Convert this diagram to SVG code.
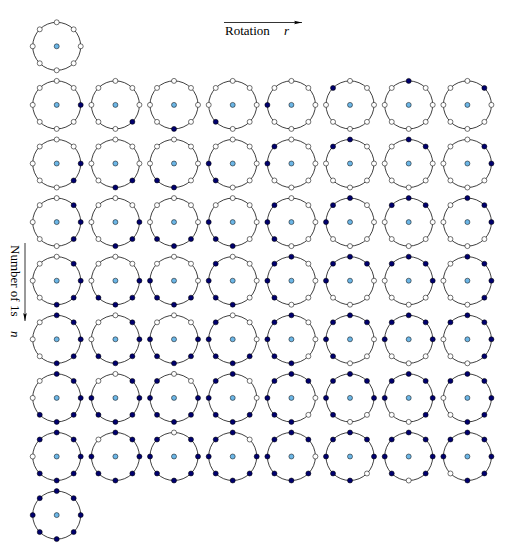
<svg xmlns="http://www.w3.org/2000/svg" xmlns:xlink="http://www.w3.org/1999/xlink" width="519" height="560" viewBox="0 0 519 560">
<style>
.ring{fill:none;stroke:#000;stroke-width:0.75}
.c{fill:#6cb6e6;stroke:#000;stroke-width:0.5}
use{stroke:#000;stroke-width:0.55}
.d{fill:#00006e}
.w{fill:#fff}
.lbl{font-family:"Liberation Serif","Times New Roman",serif;font-size:13px;fill:#000}
.it{font-style:italic}
.ax{stroke:#000;stroke-width:0.8;fill:none}
</style>
<defs>
<circle id="p0" cx="24" cy="0" r="2.5"/>
<circle id="p1" cx="16.97" cy="16.97" r="2.5"/>
<circle id="p2" cx="0" cy="24" r="2.5"/>
<circle id="p3" cx="-16.97" cy="16.97" r="2.5"/>
<circle id="p4" cx="-24" cy="0" r="2.5"/>
<circle id="p5" cx="-16.97" cy="-16.97" r="2.5"/>
<circle id="p6" cx="0" cy="-24" r="2.5"/>
<circle id="p7" cx="16.97" cy="-16.97" r="2.5"/>
<marker id="ah" markerWidth="10" markerHeight="6" refX="8" refY="3" orient="auto" markerUnits="userSpaceOnUse">
<path d="M0,1.2 L8,3 L0,4.8 L1.5,3 z" fill="#000"/>
</marker>
</defs>
<g id="axes">
<line class="ax" x1="224" y1="22.5" x2="302" y2="22.5" marker-end="url(#ah)"/>
<line class="ax" x1="25" y1="243" x2="25" y2="321" marker-end="url(#ah)"/>
<text class="lbl" x="225" y="35">Rotation</text>
<text class="lbl it" x="284" y="35">r</text>
<g transform="translate(11,245) rotate(90)"><text class="lbl" x="0" y="0">Number of 1s</text><text class="lbl it" x="86" y="0">n</text></g>
</g>
<g id="n0c0" transform="translate(56.7,46.3)"><circle class="ring" r="24"/><circle class="c" r="2.5"/><use href="#p0" class="w"/><use href="#p1" class="w"/><use href="#p2" class="w"/><use href="#p3" class="w"/><use href="#p4" class="w"/><use href="#p5" class="w"/><use href="#p6" class="w"/><use href="#p7" class="w"/></g>
<g id="n1c0" transform="translate(56.7,104.9)"><circle class="ring" r="24"/><circle class="c" r="2.5"/><use href="#p0" class="d"/><use href="#p1" class="w"/><use href="#p2" class="w"/><use href="#p3" class="w"/><use href="#p4" class="w"/><use href="#p5" class="w"/><use href="#p6" class="w"/><use href="#p7" class="w"/></g>
<g id="n1c1" transform="translate(115.4,104.9)"><circle class="ring" r="24"/><circle class="c" r="2.5"/><use href="#p0" class="w"/><use href="#p1" class="d"/><use href="#p2" class="w"/><use href="#p3" class="w"/><use href="#p4" class="w"/><use href="#p5" class="w"/><use href="#p6" class="w"/><use href="#p7" class="w"/></g>
<g id="n1c2" transform="translate(174,104.9)"><circle class="ring" r="24"/><circle class="c" r="2.5"/><use href="#p0" class="w"/><use href="#p1" class="w"/><use href="#p2" class="d"/><use href="#p3" class="w"/><use href="#p4" class="w"/><use href="#p5" class="w"/><use href="#p6" class="w"/><use href="#p7" class="w"/></g>
<g id="n1c3" transform="translate(232.7,104.9)"><circle class="ring" r="24"/><circle class="c" r="2.5"/><use href="#p0" class="w"/><use href="#p1" class="w"/><use href="#p2" class="w"/><use href="#p3" class="d"/><use href="#p4" class="w"/><use href="#p5" class="w"/><use href="#p6" class="w"/><use href="#p7" class="w"/></g>
<g id="n1c4" transform="translate(291.4,104.9)"><circle class="ring" r="24"/><circle class="c" r="2.5"/><use href="#p0" class="w"/><use href="#p1" class="w"/><use href="#p2" class="w"/><use href="#p3" class="w"/><use href="#p4" class="d"/><use href="#p5" class="w"/><use href="#p6" class="w"/><use href="#p7" class="w"/></g>
<g id="n1c5" transform="translate(350,104.9)"><circle class="ring" r="24"/><circle class="c" r="2.5"/><use href="#p0" class="w"/><use href="#p1" class="w"/><use href="#p2" class="w"/><use href="#p3" class="w"/><use href="#p4" class="w"/><use href="#p5" class="d"/><use href="#p6" class="w"/><use href="#p7" class="w"/></g>
<g id="n1c6" transform="translate(408.7,104.9)"><circle class="ring" r="24"/><circle class="c" r="2.5"/><use href="#p0" class="w"/><use href="#p1" class="w"/><use href="#p2" class="w"/><use href="#p3" class="w"/><use href="#p4" class="w"/><use href="#p5" class="w"/><use href="#p6" class="d"/><use href="#p7" class="w"/></g>
<g id="n1c7" transform="translate(467.4,104.9)"><circle class="ring" r="24"/><circle class="c" r="2.5"/><use href="#p0" class="w"/><use href="#p1" class="w"/><use href="#p2" class="w"/><use href="#p3" class="w"/><use href="#p4" class="w"/><use href="#p5" class="w"/><use href="#p6" class="w"/><use href="#p7" class="d"/></g>
<g id="n2c0" transform="translate(56.7,163.5)"><circle class="ring" r="24"/><circle class="c" r="2.5"/><use href="#p0" class="d"/><use href="#p1" class="d"/><use href="#p2" class="w"/><use href="#p3" class="w"/><use href="#p4" class="w"/><use href="#p5" class="w"/><use href="#p6" class="w"/><use href="#p7" class="w"/></g>
<g id="n2c1" transform="translate(115.4,163.5)"><circle class="ring" r="24"/><circle class="c" r="2.5"/><use href="#p0" class="w"/><use href="#p1" class="d"/><use href="#p2" class="d"/><use href="#p3" class="w"/><use href="#p4" class="w"/><use href="#p5" class="w"/><use href="#p6" class="w"/><use href="#p7" class="w"/></g>
<g id="n2c2" transform="translate(174,163.5)"><circle class="ring" r="24"/><circle class="c" r="2.5"/><use href="#p0" class="w"/><use href="#p1" class="w"/><use href="#p2" class="d"/><use href="#p3" class="d"/><use href="#p4" class="w"/><use href="#p5" class="w"/><use href="#p6" class="w"/><use href="#p7" class="w"/></g>
<g id="n2c3" transform="translate(232.7,163.5)"><circle class="ring" r="24"/><circle class="c" r="2.5"/><use href="#p0" class="w"/><use href="#p1" class="w"/><use href="#p2" class="w"/><use href="#p3" class="d"/><use href="#p4" class="d"/><use href="#p5" class="w"/><use href="#p6" class="w"/><use href="#p7" class="w"/></g>
<g id="n2c4" transform="translate(291.4,163.5)"><circle class="ring" r="24"/><circle class="c" r="2.5"/><use href="#p0" class="w"/><use href="#p1" class="w"/><use href="#p2" class="w"/><use href="#p3" class="w"/><use href="#p4" class="d"/><use href="#p5" class="d"/><use href="#p6" class="w"/><use href="#p7" class="w"/></g>
<g id="n2c5" transform="translate(350,163.5)"><circle class="ring" r="24"/><circle class="c" r="2.5"/><use href="#p0" class="w"/><use href="#p1" class="w"/><use href="#p2" class="w"/><use href="#p3" class="w"/><use href="#p4" class="w"/><use href="#p5" class="d"/><use href="#p6" class="d"/><use href="#p7" class="w"/></g>
<g id="n2c6" transform="translate(408.7,163.5)"><circle class="ring" r="24"/><circle class="c" r="2.5"/><use href="#p0" class="w"/><use href="#p1" class="w"/><use href="#p2" class="w"/><use href="#p3" class="w"/><use href="#p4" class="w"/><use href="#p5" class="w"/><use href="#p6" class="d"/><use href="#p7" class="d"/></g>
<g id="n2c7" transform="translate(467.4,163.5)"><circle class="ring" r="24"/><circle class="c" r="2.5"/><use href="#p0" class="d"/><use href="#p1" class="w"/><use href="#p2" class="w"/><use href="#p3" class="w"/><use href="#p4" class="w"/><use href="#p5" class="w"/><use href="#p6" class="w"/><use href="#p7" class="d"/></g>
<g id="n3c0" transform="translate(56.7,222.1)"><circle class="ring" r="24"/><circle class="c" r="2.5"/><use href="#p0" class="d"/><use href="#p1" class="d"/><use href="#p2" class="w"/><use href="#p3" class="w"/><use href="#p4" class="w"/><use href="#p5" class="w"/><use href="#p6" class="w"/><use href="#p7" class="d"/></g>
<g id="n3c1" transform="translate(115.4,222.1)"><circle class="ring" r="24"/><circle class="c" r="2.5"/><use href="#p0" class="d"/><use href="#p1" class="d"/><use href="#p2" class="d"/><use href="#p3" class="w"/><use href="#p4" class="w"/><use href="#p5" class="w"/><use href="#p6" class="w"/><use href="#p7" class="w"/></g>
<g id="n3c2" transform="translate(174,222.1)"><circle class="ring" r="24"/><circle class="c" r="2.5"/><use href="#p0" class="w"/><use href="#p1" class="d"/><use href="#p2" class="d"/><use href="#p3" class="d"/><use href="#p4" class="w"/><use href="#p5" class="w"/><use href="#p6" class="w"/><use href="#p7" class="w"/></g>
<g id="n3c3" transform="translate(232.7,222.1)"><circle class="ring" r="24"/><circle class="c" r="2.5"/><use href="#p0" class="w"/><use href="#p1" class="w"/><use href="#p2" class="d"/><use href="#p3" class="d"/><use href="#p4" class="d"/><use href="#p5" class="w"/><use href="#p6" class="w"/><use href="#p7" class="w"/></g>
<g id="n3c4" transform="translate(291.4,222.1)"><circle class="ring" r="24"/><circle class="c" r="2.5"/><use href="#p0" class="w"/><use href="#p1" class="w"/><use href="#p2" class="w"/><use href="#p3" class="d"/><use href="#p4" class="d"/><use href="#p5" class="d"/><use href="#p6" class="w"/><use href="#p7" class="w"/></g>
<g id="n3c5" transform="translate(350,222.1)"><circle class="ring" r="24"/><circle class="c" r="2.5"/><use href="#p0" class="w"/><use href="#p1" class="w"/><use href="#p2" class="w"/><use href="#p3" class="w"/><use href="#p4" class="d"/><use href="#p5" class="d"/><use href="#p6" class="d"/><use href="#p7" class="w"/></g>
<g id="n3c6" transform="translate(408.7,222.1)"><circle class="ring" r="24"/><circle class="c" r="2.5"/><use href="#p0" class="w"/><use href="#p1" class="w"/><use href="#p2" class="w"/><use href="#p3" class="w"/><use href="#p4" class="w"/><use href="#p5" class="d"/><use href="#p6" class="d"/><use href="#p7" class="d"/></g>
<g id="n3c7" transform="translate(467.4,222.1)"><circle class="ring" r="24"/><circle class="c" r="2.5"/><use href="#p0" class="d"/><use href="#p1" class="w"/><use href="#p2" class="w"/><use href="#p3" class="w"/><use href="#p4" class="w"/><use href="#p5" class="w"/><use href="#p6" class="d"/><use href="#p7" class="d"/></g>
<g id="n4c0" transform="translate(56.7,280.7)"><circle class="ring" r="24"/><circle class="c" r="2.5"/><use href="#p0" class="d"/><use href="#p1" class="d"/><use href="#p2" class="d"/><use href="#p3" class="w"/><use href="#p4" class="w"/><use href="#p5" class="w"/><use href="#p6" class="w"/><use href="#p7" class="d"/></g>
<g id="n4c1" transform="translate(115.4,280.7)"><circle class="ring" r="24"/><circle class="c" r="2.5"/><use href="#p0" class="d"/><use href="#p1" class="d"/><use href="#p2" class="d"/><use href="#p3" class="d"/><use href="#p4" class="w"/><use href="#p5" class="w"/><use href="#p6" class="w"/><use href="#p7" class="w"/></g>
<g id="n4c2" transform="translate(174,280.7)"><circle class="ring" r="24"/><circle class="c" r="2.5"/><use href="#p0" class="w"/><use href="#p1" class="d"/><use href="#p2" class="d"/><use href="#p3" class="d"/><use href="#p4" class="d"/><use href="#p5" class="w"/><use href="#p6" class="w"/><use href="#p7" class="w"/></g>
<g id="n4c3" transform="translate(232.7,280.7)"><circle class="ring" r="24"/><circle class="c" r="2.5"/><use href="#p0" class="w"/><use href="#p1" class="w"/><use href="#p2" class="d"/><use href="#p3" class="d"/><use href="#p4" class="d"/><use href="#p5" class="d"/><use href="#p6" class="w"/><use href="#p7" class="w"/></g>
<g id="n4c4" transform="translate(291.4,280.7)"><circle class="ring" r="24"/><circle class="c" r="2.5"/><use href="#p0" class="w"/><use href="#p1" class="w"/><use href="#p2" class="w"/><use href="#p3" class="d"/><use href="#p4" class="d"/><use href="#p5" class="d"/><use href="#p6" class="d"/><use href="#p7" class="w"/></g>
<g id="n4c5" transform="translate(350,280.7)"><circle class="ring" r="24"/><circle class="c" r="2.5"/><use href="#p0" class="w"/><use href="#p1" class="w"/><use href="#p2" class="w"/><use href="#p3" class="w"/><use href="#p4" class="d"/><use href="#p5" class="d"/><use href="#p6" class="d"/><use href="#p7" class="d"/></g>
<g id="n4c6" transform="translate(408.7,280.7)"><circle class="ring" r="24"/><circle class="c" r="2.5"/><use href="#p0" class="d"/><use href="#p1" class="w"/><use href="#p2" class="w"/><use href="#p3" class="w"/><use href="#p4" class="w"/><use href="#p5" class="d"/><use href="#p6" class="d"/><use href="#p7" class="d"/></g>
<g id="n4c7" transform="translate(467.4,280.7)"><circle class="ring" r="24"/><circle class="c" r="2.5"/><use href="#p0" class="d"/><use href="#p1" class="d"/><use href="#p2" class="w"/><use href="#p3" class="w"/><use href="#p4" class="w"/><use href="#p5" class="w"/><use href="#p6" class="d"/><use href="#p7" class="d"/></g>
<g id="n5c0" transform="translate(56.7,339.3)"><circle class="ring" r="24"/><circle class="c" r="2.5"/><use href="#p0" class="d"/><use href="#p1" class="d"/><use href="#p2" class="d"/><use href="#p3" class="w"/><use href="#p4" class="w"/><use href="#p5" class="w"/><use href="#p6" class="d"/><use href="#p7" class="d"/></g>
<g id="n5c1" transform="translate(115.4,339.3)"><circle class="ring" r="24"/><circle class="c" r="2.5"/><use href="#p0" class="d"/><use href="#p1" class="d"/><use href="#p2" class="d"/><use href="#p3" class="d"/><use href="#p4" class="w"/><use href="#p5" class="w"/><use href="#p6" class="w"/><use href="#p7" class="d"/></g>
<g id="n5c2" transform="translate(174,339.3)"><circle class="ring" r="24"/><circle class="c" r="2.5"/><use href="#p0" class="d"/><use href="#p1" class="d"/><use href="#p2" class="d"/><use href="#p3" class="d"/><use href="#p4" class="d"/><use href="#p5" class="w"/><use href="#p6" class="w"/><use href="#p7" class="w"/></g>
<g id="n5c3" transform="translate(232.7,339.3)"><circle class="ring" r="24"/><circle class="c" r="2.5"/><use href="#p0" class="w"/><use href="#p1" class="d"/><use href="#p2" class="d"/><use href="#p3" class="d"/><use href="#p4" class="d"/><use href="#p5" class="d"/><use href="#p6" class="w"/><use href="#p7" class="w"/></g>
<g id="n5c4" transform="translate(291.4,339.3)"><circle class="ring" r="24"/><circle class="c" r="2.5"/><use href="#p0" class="w"/><use href="#p1" class="w"/><use href="#p2" class="d"/><use href="#p3" class="d"/><use href="#p4" class="d"/><use href="#p5" class="d"/><use href="#p6" class="d"/><use href="#p7" class="w"/></g>
<g id="n5c5" transform="translate(350,339.3)"><circle class="ring" r="24"/><circle class="c" r="2.5"/><use href="#p0" class="w"/><use href="#p1" class="w"/><use href="#p2" class="w"/><use href="#p3" class="d"/><use href="#p4" class="d"/><use href="#p5" class="d"/><use href="#p6" class="d"/><use href="#p7" class="d"/></g>
<g id="n5c6" transform="translate(408.7,339.3)"><circle class="ring" r="24"/><circle class="c" r="2.5"/><use href="#p0" class="d"/><use href="#p1" class="w"/><use href="#p2" class="w"/><use href="#p3" class="w"/><use href="#p4" class="d"/><use href="#p5" class="d"/><use href="#p6" class="d"/><use href="#p7" class="d"/></g>
<g id="n5c7" transform="translate(467.4,339.3)"><circle class="ring" r="24"/><circle class="c" r="2.5"/><use href="#p0" class="d"/><use href="#p1" class="d"/><use href="#p2" class="w"/><use href="#p3" class="w"/><use href="#p4" class="w"/><use href="#p5" class="d"/><use href="#p6" class="d"/><use href="#p7" class="d"/></g>
<g id="n6c0" transform="translate(56.7,397.9)"><circle class="ring" r="24"/><circle class="c" r="2.5"/><use href="#p0" class="d"/><use href="#p1" class="d"/><use href="#p2" class="d"/><use href="#p3" class="d"/><use href="#p4" class="w"/><use href="#p5" class="w"/><use href="#p6" class="d"/><use href="#p7" class="d"/></g>
<g id="n6c1" transform="translate(115.4,397.9)"><circle class="ring" r="24"/><circle class="c" r="2.5"/><use href="#p0" class="d"/><use href="#p1" class="d"/><use href="#p2" class="d"/><use href="#p3" class="d"/><use href="#p4" class="d"/><use href="#p5" class="w"/><use href="#p6" class="w"/><use href="#p7" class="d"/></g>
<g id="n6c2" transform="translate(174,397.9)"><circle class="ring" r="24"/><circle class="c" r="2.5"/><use href="#p0" class="d"/><use href="#p1" class="d"/><use href="#p2" class="d"/><use href="#p3" class="d"/><use href="#p4" class="d"/><use href="#p5" class="d"/><use href="#p6" class="w"/><use href="#p7" class="w"/></g>
<g id="n6c3" transform="translate(232.7,397.9)"><circle class="ring" r="24"/><circle class="c" r="2.5"/><use href="#p0" class="w"/><use href="#p1" class="d"/><use href="#p2" class="d"/><use href="#p3" class="d"/><use href="#p4" class="d"/><use href="#p5" class="d"/><use href="#p6" class="d"/><use href="#p7" class="w"/></g>
<g id="n6c4" transform="translate(291.4,397.9)"><circle class="ring" r="24"/><circle class="c" r="2.5"/><use href="#p0" class="w"/><use href="#p1" class="w"/><use href="#p2" class="d"/><use href="#p3" class="d"/><use href="#p4" class="d"/><use href="#p5" class="d"/><use href="#p6" class="d"/><use href="#p7" class="d"/></g>
<g id="n6c5" transform="translate(350,397.9)"><circle class="ring" r="24"/><circle class="c" r="2.5"/><use href="#p0" class="d"/><use href="#p1" class="w"/><use href="#p2" class="w"/><use href="#p3" class="d"/><use href="#p4" class="d"/><use href="#p5" class="d"/><use href="#p6" class="d"/><use href="#p7" class="d"/></g>
<g id="n6c6" transform="translate(408.7,397.9)"><circle class="ring" r="24"/><circle class="c" r="2.5"/><use href="#p0" class="d"/><use href="#p1" class="d"/><use href="#p2" class="w"/><use href="#p3" class="w"/><use href="#p4" class="d"/><use href="#p5" class="d"/><use href="#p6" class="d"/><use href="#p7" class="d"/></g>
<g id="n6c7" transform="translate(467.4,397.9)"><circle class="ring" r="24"/><circle class="c" r="2.5"/><use href="#p0" class="d"/><use href="#p1" class="d"/><use href="#p2" class="d"/><use href="#p3" class="w"/><use href="#p4" class="w"/><use href="#p5" class="d"/><use href="#p6" class="d"/><use href="#p7" class="d"/></g>
<g id="n7c0" transform="translate(56.7,456.5)"><circle class="ring" r="24"/><circle class="c" r="2.5"/><use href="#p0" class="d"/><use href="#p1" class="d"/><use href="#p2" class="d"/><use href="#p3" class="d"/><use href="#p4" class="w"/><use href="#p5" class="d"/><use href="#p6" class="d"/><use href="#p7" class="d"/></g>
<g id="n7c1" transform="translate(115.4,456.5)"><circle class="ring" r="24"/><circle class="c" r="2.5"/><use href="#p0" class="d"/><use href="#p1" class="d"/><use href="#p2" class="d"/><use href="#p3" class="d"/><use href="#p4" class="d"/><use href="#p5" class="w"/><use href="#p6" class="d"/><use href="#p7" class="d"/></g>
<g id="n7c2" transform="translate(174,456.5)"><circle class="ring" r="24"/><circle class="c" r="2.5"/><use href="#p0" class="d"/><use href="#p1" class="d"/><use href="#p2" class="d"/><use href="#p3" class="d"/><use href="#p4" class="d"/><use href="#p5" class="d"/><use href="#p6" class="w"/><use href="#p7" class="d"/></g>
<g id="n7c3" transform="translate(232.7,456.5)"><circle class="ring" r="24"/><circle class="c" r="2.5"/><use href="#p0" class="d"/><use href="#p1" class="d"/><use href="#p2" class="d"/><use href="#p3" class="d"/><use href="#p4" class="d"/><use href="#p5" class="d"/><use href="#p6" class="d"/><use href="#p7" class="w"/></g>
<g id="n7c4" transform="translate(291.4,456.5)"><circle class="ring" r="24"/><circle class="c" r="2.5"/><use href="#p0" class="w"/><use href="#p1" class="d"/><use href="#p2" class="d"/><use href="#p3" class="d"/><use href="#p4" class="d"/><use href="#p5" class="d"/><use href="#p6" class="d"/><use href="#p7" class="d"/></g>
<g id="n7c5" transform="translate(350,456.5)"><circle class="ring" r="24"/><circle class="c" r="2.5"/><use href="#p0" class="d"/><use href="#p1" class="w"/><use href="#p2" class="d"/><use href="#p3" class="d"/><use href="#p4" class="d"/><use href="#p5" class="d"/><use href="#p6" class="d"/><use href="#p7" class="d"/></g>
<g id="n7c6" transform="translate(408.7,456.5)"><circle class="ring" r="24"/><circle class="c" r="2.5"/><use href="#p0" class="d"/><use href="#p1" class="d"/><use href="#p2" class="w"/><use href="#p3" class="d"/><use href="#p4" class="d"/><use href="#p5" class="d"/><use href="#p6" class="d"/><use href="#p7" class="d"/></g>
<g id="n7c7" transform="translate(467.4,456.5)"><circle class="ring" r="24"/><circle class="c" r="2.5"/><use href="#p0" class="d"/><use href="#p1" class="d"/><use href="#p2" class="d"/><use href="#p3" class="w"/><use href="#p4" class="d"/><use href="#p5" class="d"/><use href="#p6" class="d"/><use href="#p7" class="d"/></g>
<g id="n8c0" transform="translate(56.7,515.1)"><circle class="ring" r="24"/><circle class="c" r="2.5"/><use href="#p0" class="d"/><use href="#p1" class="d"/><use href="#p2" class="d"/><use href="#p3" class="d"/><use href="#p4" class="d"/><use href="#p5" class="d"/><use href="#p6" class="d"/><use href="#p7" class="d"/></g>
</svg>
